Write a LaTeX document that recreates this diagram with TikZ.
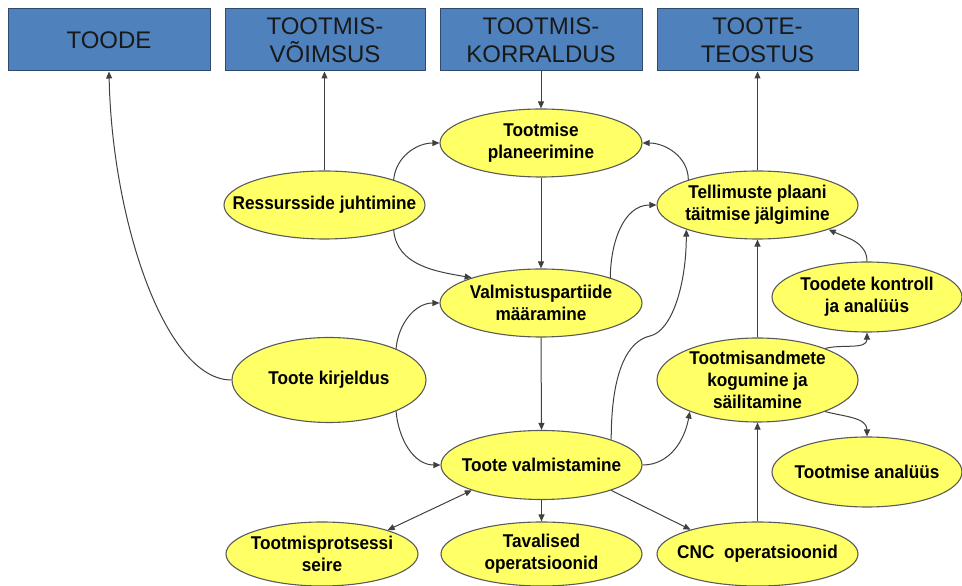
\documentclass[tikz,border=0pt]{standalone}
\usepackage{fontspec}
\setmainfont{Liberation Sans}
\newfontfamily\ovalfont{Liberation Sans}[FakeStretch=0.93]
\usetikzlibrary{shapes.geometric,arrows.meta}
\definecolor{boxblue}{HTML}{4F81BD}
\definecolor{boxedge}{HTML}{2E4A6E}
\definecolor{ellfill}{HTML}{FFFF66}
\definecolor{elledge}{HTML}{5A5A5A}
\definecolor{linec}{HTML}{404040}
\tikzset{
  topbox/.style={rectangle, draw=boxedge, line width=1pt, fill=boxblue,
    minimum width=#1, minimum height=62pt, inner sep=0pt, align=center,
    text=black!90, font=\fontsize{24}{28}\selectfont},
  topbox/.default=202pt,
  % the ellipse has a fixed size; its text is set as a centred label
  oval/.style n args={3}{ellipse, draw=elledge, line width=1.1pt, fill=ellfill,
    inner sep=0pt, minimum width=#1, minimum height=#2,
    label={[ovaltext]center:{#3}}},
  ovaltext/.style={align=center, text=black, inner sep=0pt,
    font=\ovalfont\bfseries\fontsize{18.5}{22}\selectfont},
  conn/.style={draw=linec, line width=1pt, -{Triangle[length=7pt,width=6pt]}},
  both/.style={draw=linec, line width=1pt, {Triangle[length=7pt,width=6pt]}-{Triangle[length=7pt,width=6pt]}}
}
\begin{document}
\begin{tikzpicture}[x=1pt,y=1pt]
\path[use as bounding box] (0,0) rectangle (962,586);

% top row of blue boxes
\node[topbox=202pt] (toode) at (109,546) {TOODE};
\node[topbox=200pt] (vois)  at (325,546) {TOOTMIS-\\VÕIMSUS};
\node[topbox=202pt] (korr)  at (541,546) {TOOTMIS-\\KORRALDUS};
\node[topbox=201pt] (teos)  at (757.5,546) {TOOTE-\\TEOSTUS};

% process ellipses
\node[oval={202pt}{68pt}{Tootmise\\planeerimine}] (plan) at (541,443) {};
\node[oval={201pt}{68pt}{Ressursside juhtimine}] (res) at (324.5,381) {};
\node[oval={202pt}{68pt}{Valmistuspartiide\\määramine}] (valm) at (541,283) {};
\node[oval={201pt}{68pt}{Tellimuste plaani\\täitmise jälgimine}] (tell) at (757.5,381) {};
\node[oval={190pt}{70pt}{Toodete kontroll\\ja analüüs}] (kont) at (867,289) {};
\node[oval={201pt}{84pt}{Tootmisandmete\\kogumine ja\\säilitamine}] (andm) at (757.5,206) {};
\node[oval={194pt}{85pt}{Toote kirjeldus}] (kirj) at (329,206) {};
\node[oval={201pt}{69pt}{Toote valmistamine}] (vt) at (541.5,121) {};
\node[oval={190pt}{70pt}{Tootmise analüüs}] (anal) at (867,114) {};
\node[oval={192pt}{64pt}{Tootmisprotsessi\\seire}] (seire) at (322,32) {};
\node[oval={201pt}{64pt}{Tavalised\\operatsioonid}] (tav) at (541.5,32) {};
\node[oval={201pt}{64pt}{CNC~~operatsioonid}] (cnc) at (757.5,32) {};

\coordinate (sbend) at (650,250);

% straight vertical links
\draw[conn] (korr.south) -- (plan.north);
\draw[conn] (plan.south) -- (valm.north);
\draw[conn] (valm.south) -- (vt.north);
\draw[conn] (vt.south) -- (tav.north);
\draw[conn] (res.north) -- (res.north |- vois.south);
\draw[conn] (tell.north) -- (tell.north |- teos.south);
\draw[conn] (andm.north) -- (tell.south);
\draw[conn] (cnc.north) -- (andm.south);

% curved links
\draw[conn] (kirj.west) .. controls (165,206) and (112,366) .. (toode.south);
\draw[conn] (res.20) to[out=85,in=180] (plan.west);
\draw[conn] (res.-20) to[out=-85,in=170] (valm.160);
\draw[conn] (tell.160) to[out=90,in=0] (plan.east);
\draw[conn] (valm.20) to[out=90,in=180] (tell.west);
\draw[conn] (kirj.25) to[out=85,in=180] (valm.west);
\draw[conn] (kirj.-25) to[out=-85,in=180] (vt.west);
\draw[conn] (vt.20) .. controls +(0,69) and +(-22,-5) .. (sbend)
  .. controls +(22,5) and +(0,-55) .. (tell.-161);
\draw[conn] (vt.east) to[out=0,in=-100] (andm.-155);
\draw[conn] (kont.north) to[out=90,in=-25] (tell.-19);
\draw[conn] (andm.25) to[out=15,in=-90] (kont.south);
\draw[conn] (andm.-25) to[out=-15,in=90] (anal.north);

% straight diagonal links
\draw[both] (vt.200) -- (seire.20);
\draw[conn] (vt.-20) -- (cnc.160);
\end{tikzpicture}
\end{document}
